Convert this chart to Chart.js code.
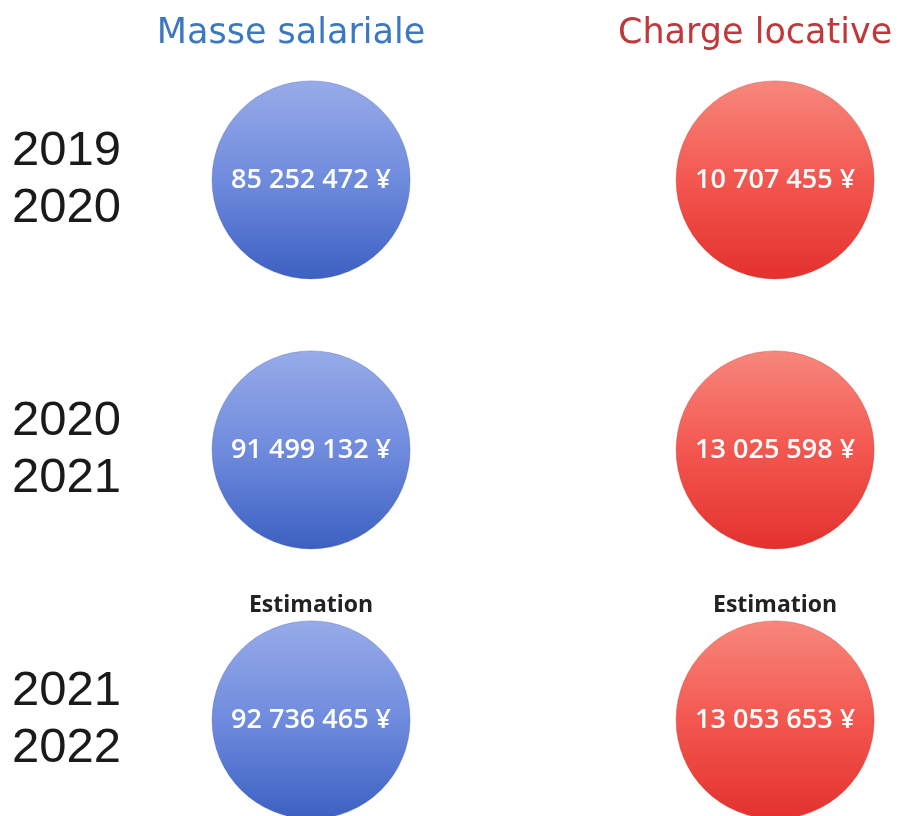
<!DOCTYPE html>
<html lang="fr">
<head>
<meta charset="utf-8">
<script src="https://cdn.jsdelivr.net/npm/chart.js@4"></script>
<style>
  html, body { margin: 0; padding: 0; background: #fff; }
  #wrap { width: 912px; height: 816px; position: relative; }
</style>
</head>
<body>
<div id="wrap"><canvas id="c"></canvas></div>
<script>
const columns = ['Masse salariale', 'Charge locative'];
const periods = [['2019', '2020'], ['2020', '2021'], ['2021', '2022']];
const masseSalariale = [85252472, 91499132, 92736465];
const chargeLocative = [10707455, 13025598, 13053653];
const estimated = [false, false, true];

const TITLE_COLORS = ['#3b78c4', '#c0383a'];
const BLUE = ['#97abe8', '#6f8bdd', '#3c60c2'];
const RED  = ['#f7877c', '#f3574f', '#e3312e'];
const R = 99;

const fmt = (n) => String(n).replace(/\B(?=(\d{3})+(?!\d))/g, ' ') + ' ¥';

// vertical gradient across each bubble
function shade(stops) {
  return (context) => {
    const { chart } = context;
    const ys = chart.scales.y;
    if (!ys || context.parsed == null) return stops[1];
    const cy = ys.getPixelForValue(context.parsed.y);
    if (!isFinite(cy)) return stops[1];
    const g = chart.ctx.createLinearGradient(0, cy - R, 0, cy + R);
    g.addColorStop(0, stops[0]);
    g.addColorStop(0.5, stops[1]);
    g.addColorStop(1, stops[2]);
    return g;
  };
}

const bubbleLabels = {
  id: 'bubbleLabels',
  afterDatasetsDraw(chart) {
    const { ctx } = chart;
    ctx.save();
    ctx.textAlign = 'center';
    chart.data.datasets.forEach((ds, di) => {
      chart.getDatasetMeta(di).data.forEach((el, i) => {
        const v = ds.values[i];
        ctx.fillStyle = '#ffffff';
        ctx.font = '600 27px "Open Sans"';
        ctx.textBaseline = 'middle';
        ctx.fillText(fmt(v), el.x, el.y);
        if (estimated[i]) {
          ctx.fillStyle = '#222222';
          ctx.font = 'bold 23px "Open Sans"';
          ctx.textBaseline = 'bottom';
          ctx.fillText('Estimation', el.x, el.y - R - 4);
        }
      });
    });
    ctx.restore();
  }
};

const toPoints = (arr, col) => arr.map((_, i) => ({ x: col, y: i }));

const chart = new Chart(document.getElementById('c'), {
  type: 'bubble',
  data: {
    datasets: [
      {
        label: columns[0],
        data: toPoints(masseSalariale, 0),
        values: masseSalariale,
        radius: R,
        backgroundColor: shade(BLUE),
        borderColor: 'rgba(60,90,180,0.35)',
        borderWidth: 1,
        clip: false,
      },
      {
        label: columns[1],
        data: toPoints(chargeLocative, 1),
        values: chargeLocative,
        radius: R,
        backgroundColor: shade(RED),
        borderColor: 'rgba(190,50,50,0.35)',
        borderWidth: 1,
        clip: false,
      },
    ],
  },
  options: {
    animation: false,
    responsive: true,
    maintainAspectRatio: false,
    events: [],
    layout: { autoPadding: false, padding: { left: 12, right: 0, top: 0, bottom: 0 } },
    plugins: {
      legend:  { display: false },
      tooltip: { enabled: false },
    },
    scales: {
      x: {
        type: 'linear',
        position: 'top',
        min: -0.235,
        max: 1.295,
        grid:  { display: false, drawTicks: false },
        border:{ display: false },
        afterBuildTicks: (s) => { s.ticks = columns.map((_, i) => ({ value: i })); },
        afterFit: (s) => { s.height = 70; s.paddingLeft = 0; s.paddingRight = 0; },
        ticks: {
          labelOffset: -20,
          padding: 15,
          maxRotation: 0,
          autoSkip: false,
          font: { size: 35, family: 'DejaVu Sans' },
          color: (c) => TITLE_COLORS[c.index],
          callback: (v) => columns[v],
        },
      },
      y: {
        type: 'linear',
        reverse: true,
        min: -0.407,
        max: 2.356,
        grid:  { display: false, drawTicks: false },
        border:{ display: false },
        afterBuildTicks: (s) => { s.ticks = periods.map((_, i) => ({ value: i })); },
        afterFit: (s) => { s.width = 190; s.paddingTop = 0; s.paddingBottom = 0; },
        ticks: {
          crossAlign: 'far',
          autoSkip: false,
          color: '#1a1a1a',
          font: { size: 49, family: 'Liberation Sans', lineHeight: 1.17 },
          callback: (v) => periods[v],
        },
      },
    },
  },
  plugins: [bubbleLabels],
});
chart.update();
</script>
</body>
</html>
